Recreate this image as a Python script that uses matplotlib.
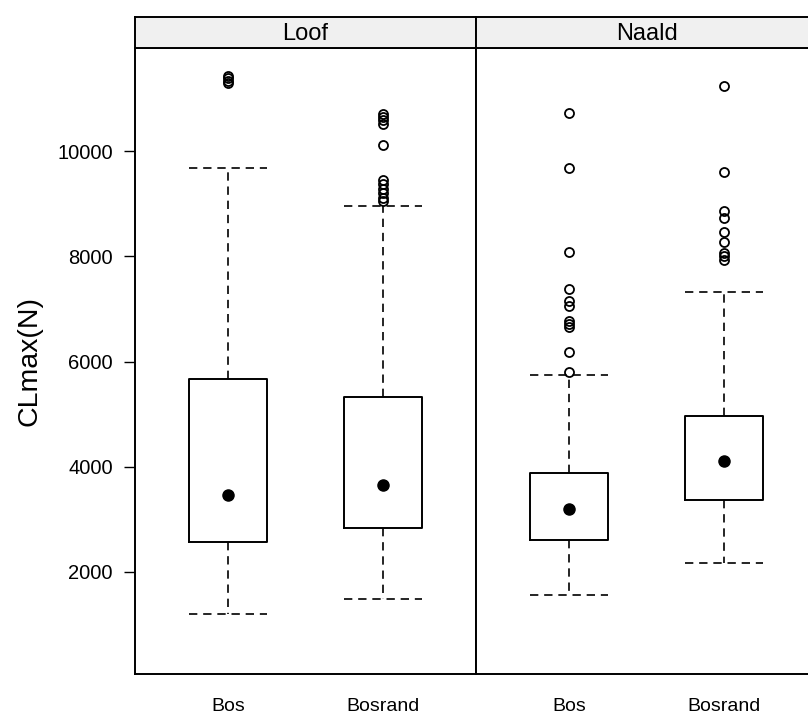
import numpy as np
import matplotlib
matplotlib.use('Agg')
import matplotlib.pyplot as plt

plt.rcParams['font.family'] = ['Liberation Sans', 'DejaVu Sans']

panels = ['Loof', 'Naald']
groups = ['Bos', 'Bosrand']

# five-number summaries per panel, one entry per group (Bos, Bosrand)
whislo = {'Loof': [1199, 1470], 'Naald': [1552, 2170]}
q1 = {'Loof': [2562, 2833], 'Naald': [2599, 3363]}
med = {'Loof': [3464, 3640], 'Naald': [3192, 4105]}
q3 = {'Loof': [5669, 5325], 'Naald': [3873, 4968]}
whishi = {'Loof': [9689, 8952], 'Naald': [5739, 7331]}

outliers_loof_bos = [11300, 11340, 11390, 11430]
outliers_loof_bosrand = [9050, 9120, 9200, 9280, 9380, 9460, 10120, 10520, 10590, 10650, 10710]
outliers_naald_bos = [5796, 6178, 6662, 6707, 6771, 7057, 7153, 7376, 8089, 9683, 10730]
outliers_naald_bosrand = [7937, 8000, 8076, 8267, 8470, 8724, 8870, 9600, 11251]
outliers = {'Loof': [outliers_loof_bos, outliers_loof_bosrand],
            'Naald': [outliers_naald_bos, outliers_naald_bosrand]}

yticks = [2000, 4000, 6000, 8000, 10000]

W, H = 808, 715
fig = plt.figure(figsize=(W / 100, H / 100), dpi=100)

top, bottom = 48, 674
strip_top = 17
pw = 341
lefts = [135, 135 + pw]

dash = (0, (5, 3.5))
for i, p in enumerate(panels):
    ax = fig.add_axes([lefts[i] / W, (H - bottom) / H, pw / W, (bottom - top) / H])
    sx = fig.add_axes([lefts[i] / W, (H - top) / H, pw / W, (top - strip_top) / H])

    stats = []
    for j, g in enumerate(groups):
        stats.append(dict(whislo=whislo[p][j], q1=q1[p][j], med=med[p][j], q3=q3[p][j],
                          whishi=whishi[p][j], fliers=outliers[p][j], label=g))
    ax.bxp(stats, positions=[1, 2], widths=0.5, capwidths=0.5,
           boxprops=dict(color='black', linewidth=1.4),
           whiskerprops=dict(color='black', linewidth=1.2, linestyle=dash),
           capprops=dict(color='black', linewidth=1.2, linestyle=dash),
           medianprops=dict(linestyle='none'),
           flierprops=dict(marker='o', markerfacecolor='none', markeredgecolor='black',
                           markersize=6.5, markeredgewidth=1.3))
    ax.plot([1, 2], med[p], 'o', color='black', markersize=8, zorder=5)

    ax.set_xlim(0.4, 2.6)
    ax.set_ylim(50, 11970)
    ax.set_xticks([1, 2], groups)
    ax.tick_params(axis='x', length=0, pad=17, labelsize=14)
    for s in ax.spines.values():
        s.set_linewidth(1.4)
    if i == 0:
        ax.set_yticks(yticks)
        ax.tick_params(axis='y', length=8, width=1, pad=8, labelsize=14.5)
        ax.set_ylabel('CLmax(N)', fontsize=20.5)
        ax.yaxis.set_label_coords(-0.27, 0.5)
    else:
        ax.set_yticks([])

    sx.set_facecolor('#F0F0F0')
    sx.set_xticks([])
    sx.set_yticks([])
    for s in sx.spines.values():
        s.set_linewidth(1.4)
    sx.text(0.5, 0.45, p, ha='center', va='center', fontsize=17, transform=sx.transAxes)

fig.savefig('out.png', dpi=100)
